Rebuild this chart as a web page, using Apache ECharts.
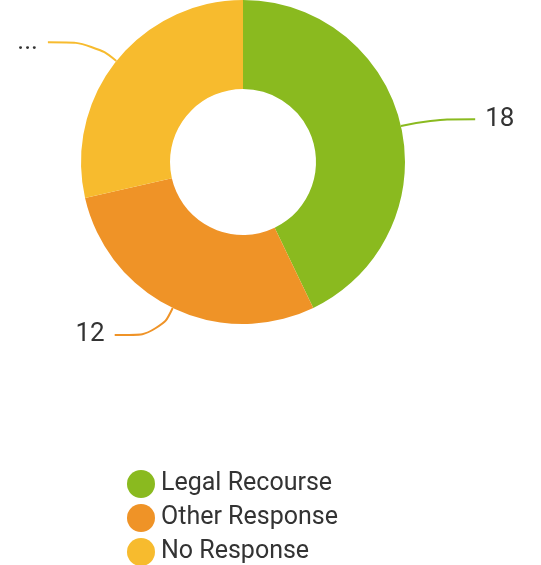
<!DOCTYPE html>
<html><head><meta charset="utf-8">
<script src="https://cdn.jsdelivr.net/npm/echarts@6/dist/echarts.min.js"></script>
<style>html,body{margin:0;padding:0;background:#fff}#c{width:541px;height:565px}</style>
</head><body><div id="c"></div>
<script>
const categories = ["Legal Recourse", "Other Response", "No Response"];
const values = [18, 12, 12];
const colors = ["#8aba1f", "#ef9327", "#f7bb2e"];
const chart = echarts.init(document.getElementById('c'));
chart.setOption({
  animation: false,
  color: colors,
  legend: {
    orient: 'vertical', left: 122, top: 465, height: 110, icon: 'circle',
    itemWidth: 30, itemHeight: 28, itemGap: 6,
    textStyle: { fontFamily: 'Roboto', fontSize: 25, color: '#333' },
    data: categories
  },
  series: [{
    type: 'pie', center: [243, 162], radius: [73, 162],
    startAngle: 90, clockwise: true,
    label: { formatter: '{c}', fontFamily: 'Roboto', fontSize: 26, color: '#333', distanceToLabelLine: 10 },
    labelLine: { show: true, length: 30, length2: 45, smooth: 0.5, lineStyle: { width: 2 } },
    data: categories.map((n, i) => ({ name: n, value: values[i] }))
  }]
});
</script></body></html>
